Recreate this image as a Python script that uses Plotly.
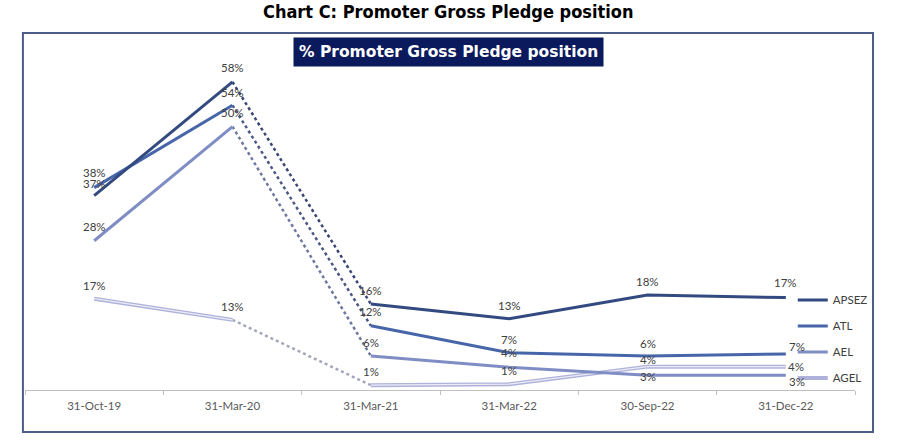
import plotly.graph_objects as go

categories = ["31-Oct-19", "31-Mar-20", "31-Mar-21", "31-Mar-22", "30-Sep-22", "31-Dec-22"]
series_names = ["APSEZ", "ATL", "AEL", "AGEL"]
apsez = [36.6, 58.0, 16.2, 13.4, 17.9, 17.4]
atl = [38.1, 53.6, 12.1, 7.0, 6.4, 6.8]
ael = [28.1, 49.6, 6.4, 4.3, 2.8, 2.8]
agel = [17.2, 13.2, 0.9, 1.1, 4.4, 4.4]
values = [apsez, atl, ael, agel]

# styles
colors = ["#334A80", "#4766AA", "#7F8DC4", "#AEB2DA"]
dot_colors = ["#394673", "#4B5886", "#6D789F", "#A3A6BA"]
# label offsets in px (xshift, yshift) per series / point
label_offsets = [
    [(0, 12), (0, 14), (0, 13), (0, 13), (0, 13), (0, 15)],
    [(0, 15), (0, 13), (0, 14), (0, 13), (0, 13), (11, 7)],
    [(0, 14), (0, 14), (0, 14), (0, 15), (0, -1), (11, -6)],
    [(0, 13), (0, 13), (0, 14), (0, 14), (0, 7), (10, 0)],
]

fig = go.Figure()
draw_order = [3, 2, 1, 0]
for i in draw_order:
    name = series_names[i]
    v = values[i]
    # dotted gap segment
    fig.add_trace(go.Scatter(
        x=categories[1:3], y=v[1:3], mode="lines", showlegend=False,
        line=dict(color=dot_colors[i], width=2.5, dash="dot"), hoverinfo="skip",
        legendgroup=name))
    segs = [(0, 2), (2, 6)]
    for k, (a, b) in enumerate(segs):
        if name == "AGEL":
            fig.add_trace(go.Scatter(
                x=categories[a:b], y=v[a:b], mode="lines", name=name,
                showlegend=(k == 0), legendgroup=name, legendrank=4,
                line=dict(color=colors[i], width=4)))
            fig.add_trace(go.Scatter(
                x=categories[a:b], y=v[a:b], mode="lines", showlegend=False,
                legendgroup=name, hoverinfo="skip",
                line=dict(color="#ECECF6", width=1.2)))
        else:
            fig.add_trace(go.Scatter(
                x=categories[a:b], y=v[a:b], mode="lines", name=name,
                showlegend=(k == 0), legendgroup=name, legendrank=i + 1,
                line=dict(color=colors[i], width=3)))

annotations = []
for i, v in enumerate(values):
    for j, val in enumerate(v):
        dx, dy = label_offsets[i][j]
        annotations.append(dict(
            x=categories[j], y=val, xref="x", yref="y", text=f"{round(val)}%",
            showarrow=False, xshift=dx, yshift=dy, xanchor="center", yanchor="middle",
            font=dict(family="Lato", size=11.5, color="#404040")))

# inner title box
annotations.append(dict(
    x=0.51, y=0.966, xref="paper", yref="paper", text="<b>% Promoter Gross Pledge position</b>",
    showarrow=False, bgcolor="#0B1A5C", borderpad=5, xanchor="center", yanchor="middle",
    font=dict(family="DejaVu Sans", size=15.5, color="white")))
# outer title
annotations.append(dict(
    x=0.51, y=1.08, xref="paper", yref="paper", text="<b>Chart C: Promoter Gross Pledge position</b>",
    showarrow=False, xanchor="center", yanchor="middle",
    font=dict(family="DejaVu Sans Condensed", size=18, color="#000000")))

fig.update_layout(
    width=904, height=448,
    margin=dict(l=25, r=49, t=40, b=58),
    paper_bgcolor="white", plot_bgcolor="white",
    showlegend=True,
    legend=dict(x=0.925, y=0.146, xanchor="left", yanchor="middle",
                font=dict(family="Lato", size=11.5, color="#404040"),
                tracegroupgap=7, bgcolor="rgba(0,0,0,0)"),
    annotations=annotations,
    shapes=[dict(type="rect", xref="paper", yref="paper",
                 x0=-0.0025, x1=1.0217, y0=-0.12, y1=1.02,
                 line=dict(color="#4C5D87", width=2), fillcolor="rgba(0,0,0,0)", layer="below")],
)
fig.update_xaxes(type="category", categoryorder="array", categoryarray=categories,
                 range=[-0.5, 5.5], showgrid=False, showline=True, linecolor="#BFBFBF",
                 linewidth=1, ticks="outside", tickson="boundaries", ticklen=4,
                 tickcolor="#BFBFBF", ticklabelstandoff=5,
                 tickfont=dict(family="Lato", size=11.5, color="#595959"))
fig.update_yaxes(range=[0, 65.9], visible=False, showgrid=False, zeroline=False)

fig.write_html("out.html", config={"displayModeBar": False},
               post_script="document.body.style.margin='0px';")
